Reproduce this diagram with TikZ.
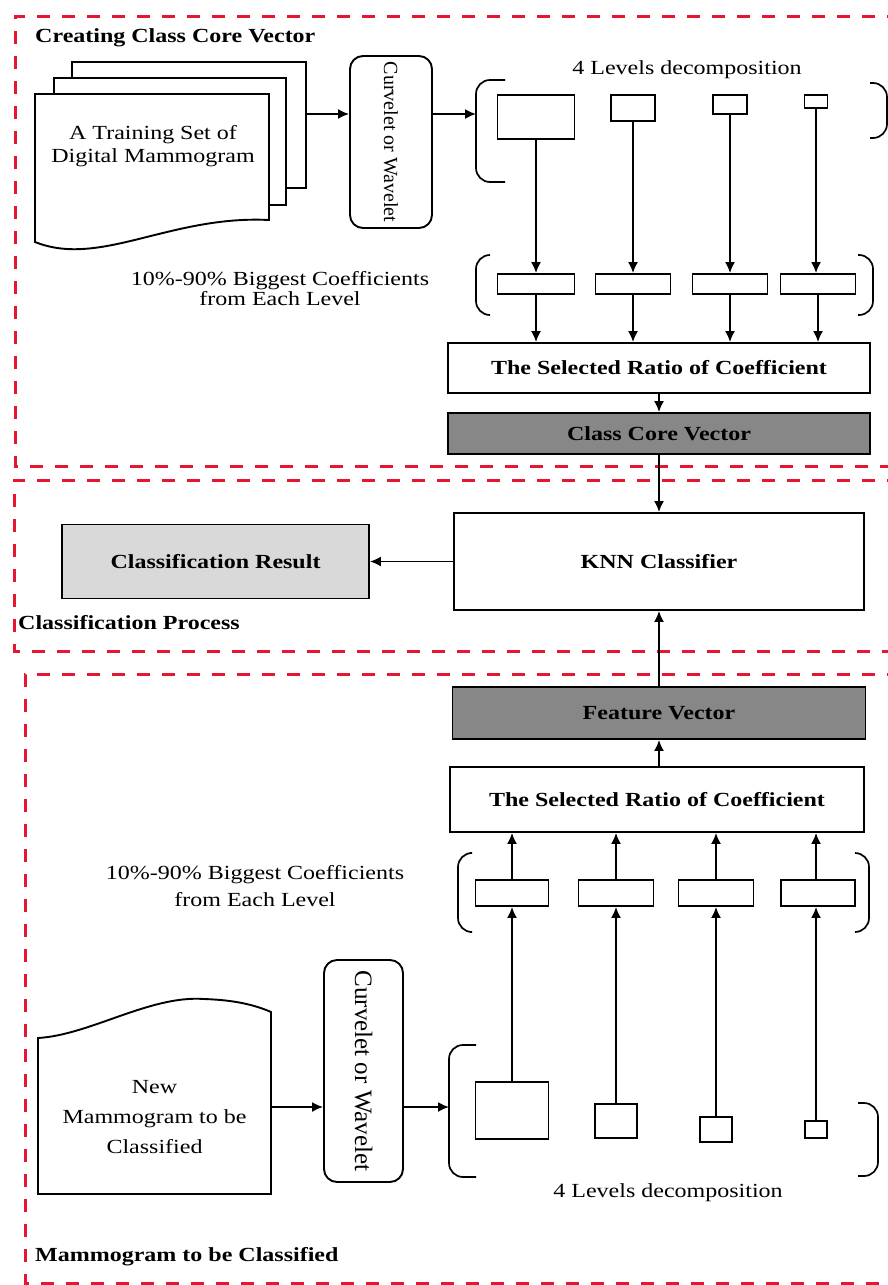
\documentclass[tikz,border=0pt]{standalone}
\usepackage{fontspec}
\setmainfont{Liberation Serif}[FakeStretch=1.2]
\newfontfamily\rotfont{Liberation Serif}
\usetikzlibrary{arrows.meta}
\definecolor{framered}{RGB}{230,22,50}
\definecolor{coregray}{RGB}{135,135,135}
\definecolor{resgray}{RGB}{217,217,217}
\newcommand\dfont{\fontsize{20}{22}\selectfont}

\begin{document}
\begin{tikzpicture}
    [x=1pt,y=-1pt,
     post/.style={->,>={Latex[length=11pt,width=10pt]},line width=1.7pt},
     pre/.style={post,<-},
     frame/.style={draw=framered,line width=3pt,dash pattern=on 13pt off 12pt},
     page/.style={draw=black,fill=white,line width=1.9pt},
     lvl/.style={draw=black,line width=1.9pt,inner sep=0pt},
     coef/.style={lvl,minimum height=20},
     bigbox/.style={lvl,font=\dfont\bfseries},
     curve/.style={lvl,rounded corners=13pt},
     brack/.style={line width=1.7pt,rounded corners=14pt},
     plain/.style={inner sep=0pt,font=\dfont,align=center},
     title/.style={inner sep=0pt,font=\dfont\bfseries,anchor=west}]
    \clip (0,0) rectangle (888,1285);
    \draw [frame] (900,16) -- (15,16) -- (15,466) -- (900,466);
    \draw [frame] (900,480) -- (14,480) -- (14,651) -- (900,651);
    \draw [frame] (900,674) -- (25,674) -- (25,1283) -- (900,1283);

    \node [title] (titleA) at (35,38) {Creating Class Core Vector};
    \node [page,minimum width=234,minimum height=126] (pageC) at (189,125) {};
    \node [page,minimum width=232,minimum height=127] (pageB) at (170,141.5) {};
    \filldraw [page] (35,94) -- (269,94) -- (269,220)
      .. controls (170,215) and (100,268) .. (35,242) -- cycle;
    \node [plain,font=\fontsize{20}{23}\selectfont] (trainA) at (153,146) {A Training Set of\\Digital Mammogram};
    \node [curve,minimum width=82,minimum height=172] (curveA) at (391,142)
      {\rotatebox{-90}{\rotfont\fontsize{20}{22}\selectfont Curvelet or Wavelet}};
    \coordinate (brA) at (476,114);
    \draw [post] (pageC.east |- brA) -- (curveA.west |- brA);
    \draw [post] (curveA.east |- brA) -- (brA);
    \node [plain] (decA) at (687,70) {4 Levels decomposition};
    \draw [brack] (505,80) -- (476,80) -- (476,182) -- (505,182);
    \draw [brack] (870,83) -- (887,83) -- (887,138) -- (870,138);
    \node [lvl,minimum width=77,minimum height=44] (lvA1) at (536,117) {};
    \node [lvl,minimum width=44,minimum height=26] (lvA2) at (633,108) {};
    \node [lvl,minimum width=34,minimum height=19] (lvA3) at (730,104.5) {};
    \node [lvl,minimum width=23,minimum height=13] (lvA4) at (816,101.5) {};
    \node [plain,font=\fontsize{20}{20}\selectfont] (bigA) at (280,289) {10\%-90\% Biggest Coefficients\\from Each Level};
    \draw [brack] (490,255) -- (476,255) -- (476,315) -- (490,315);
    \draw [brack] (858,255) -- (873,255) -- (873,315) -- (858,315);
    \node [coef,minimum width=77] (cfA1) at (536,284) {}
      edge [pre] (lvA1);
    \node [coef,minimum width=75] (cfA2) at (633,284) {}
      edge [pre] (lvA2);
    \node [coef,minimum width=75] (cfA3) at (730,284) {}
      edge [pre] (lvA3);
    \node [coef,minimum width=75] (cfA4) at (818,284) {};
    \draw [post] (lvA4.south) -- (lvA4.south |- cfA4.north);
    \node [bigbox,minimum width=422,minimum height=50] (selA) at (659,368) {The Selected Ratio of Coefficient};
    \draw [post] (cfA1.south) -- (cfA1.south |- selA.north);
    \draw [post] (cfA2.south) -- (cfA2.south |- selA.north);
    \draw [post] (cfA3.south) -- (cfA3.south |- selA.north);
    \draw [post] (cfA4.south) -- (cfA4.south |- selA.north);
    \node [bigbox,fill=coregray,minimum width=422,minimum height=41] (coreA) at (659,433.5) {Class Core Vector}
      edge [pre] (selA);

    \node [bigbox,minimum width=410,minimum height=97] (knn) at (659,561.5) {KNN Classifier}
      edge [pre] (coreA);
    \node [bigbox,fill=resgray,minimum width=307,minimum height=74] (result) at (215.5,561.5) {Classification Result}
      edge [pre] (knn);
    \node [title] (titleB) at (18,623) {Classification Process};

    \node [bigbox,fill=coregray,minimum width=413,minimum height=52] (featB) at (659,713) {Feature Vector};
    \draw [post] (featB.north) -- (knn.south);
    \node [bigbox,minimum width=414,minimum height=65] (selB) at (657,799.5) {The Selected Ratio of Coefficient};
    \draw [post] (selB.north -| featB.north) -- (featB.south);
    \node [plain,font=\fontsize{20}{27}\selectfont] (bigB) at (255,886) {10\%-90\% Biggest Coefficients\\from Each Level};
    \draw [brack] (470,853) -- (458,853) -- (458,932) -- (470,932);
    \draw [brack] (855,853) -- (869,853) -- (869,932) -- (855,932);
    \node [lvl,minimum width=73,minimum height=57] (lvB1) at (512,1110.5) {};
    \node [lvl,minimum width=42,minimum height=34] (lvB2) at (616,1121) {};
    \node [lvl,minimum width=32,minimum height=25] (lvB3) at (716,1129.5) {};
    \node [lvl,minimum width=22,minimum height=17] (lvB4) at (816,1129.5) {};
    \node [coef,minimum width=73,minimum height=26] (cfB1) at (512,893) {}
      edge [pre] (lvB1);
    \node [coef,minimum width=75,minimum height=26] (cfB2) at (616,893) {}
      edge [pre] (lvB2);
    \node [coef,minimum width=75,minimum height=26] (cfB3) at (716,893) {}
      edge [pre] (lvB3);
    \node [coef,minimum width=74,minimum height=26] (cfB4) at (818,893) {};
    \draw [post] (lvB4.north) -- (lvB4.north |- cfB4.south);
    \draw [post] (cfB1.north) -- (cfB1.north |- selB.south);
    \draw [post] (cfB2.north) -- (cfB2.north |- selB.south);
    \draw [post] (cfB3.north) -- (cfB3.north |- selB.south);
    \draw [post] (lvB4.north |- cfB4.north) -- (lvB4.north |- selB.south);
    \draw [brack] (476,1045) -- (449,1045) -- (449,1177) -- (476,1177);
    \draw [brack] (858,1103) -- (878,1103) -- (878,1176) -- (858,1176);
    \node [plain] (decB) at (668,1193) {4 Levels decomposition};
    \filldraw [page] (38,1194) -- (38,1038) .. controls (90,1035) and (150,995) .. (204,999)
      .. controls (235,1000) and (255,1005) .. (271,1012) -- (271,1194) -- cycle;
    \node [plain,font=\fontsize{20}{30}\selectfont,minimum width=233] (newdoc) at (154.5,1117) {New\\Mammogram to be\\Classified};
    \node [curve,minimum width=79,minimum height=222] (curveB) at (363.5,1071)
      {\rotatebox{-90}{\rotfont\fontsize{25}{28}\selectfont Curvelet or Wavelet}};
    \coordinate (brB) at (449,1107);
    \draw [post] (newdoc.east |- brB) -- (curveB.west |- brB);
    \draw [post] (curveB.east |- brB) -- (brB);
    \node [title] (titleC) at (35,1257) {Mammogram to be Classified};
  \end{tikzpicture}
\end{document}
